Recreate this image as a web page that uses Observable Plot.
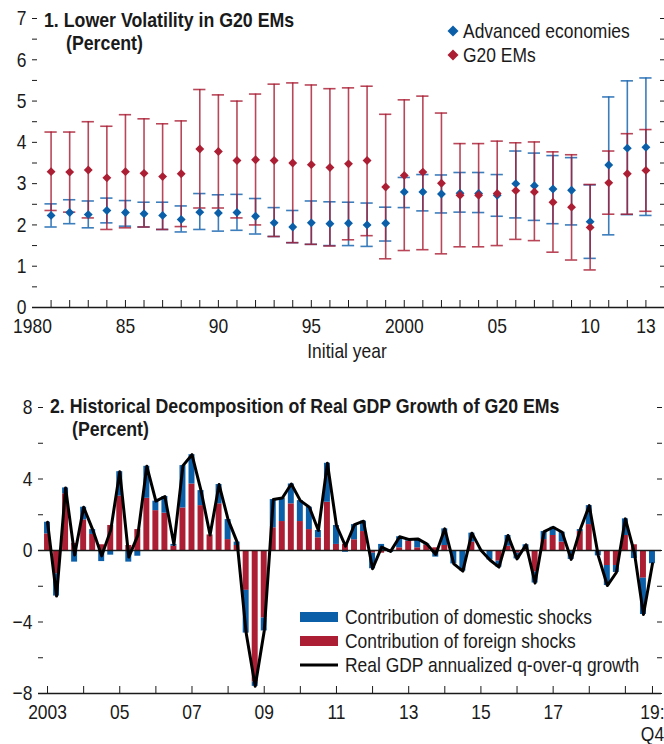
<!DOCTYPE html>
<html><head><meta charset="utf-8">
<script src="https://cdn.jsdelivr.net/npm/d3@7"></script>
<script src="https://cdn.jsdelivr.net/npm/@observablehq/plot@0.6"></script>
<style>
html,body{margin:0;padding:0;background:#fff;}
#root{position:relative;width:664px;height:744px;overflow:hidden;background:#fff;}
#root svg{position:absolute;left:0;}
</style></head><body><div id="root"></div>
<script>
// ---------- Panel 1 data ----------
const years = [1981,1982,1983,1984,1985,1986,1987,1988,1989,1990,1991,1992,1993,1994,1995,1996,1997,1998,1999,2000,2001,2002,2003,2004,2005,2006,2007,2008,2009,2010,2011,2012,2013];
const aeMid  = [2.23,2.30,2.25,2.35,2.30,2.27,2.23,2.13,2.31,2.29,2.30,2.21,2.05,1.95,2.05,2.03,2.04,2.00,2.04,2.80,2.80,2.75,2.77,2.76,2.72,3.00,2.95,2.87,2.84,2.08,3.45,3.86,3.88];
const aeHigh = [2.51,2.61,2.58,2.65,2.59,2.55,2.55,2.46,2.76,2.73,2.74,2.64,2.42,2.35,2.58,2.56,2.55,2.53,2.43,3.15,3.22,3.21,3.27,3.27,3.22,3.79,3.74,3.68,3.63,2.97,5.10,5.49,5.56];
const aeLow  = [1.95,2.03,1.93,2.05,1.97,1.95,1.89,1.83,1.89,1.85,1.87,1.78,1.72,1.57,1.53,1.50,1.50,1.48,1.61,2.42,2.34,2.29,2.31,2.30,2.21,2.17,2.11,2.03,2.00,1.19,1.76,2.25,2.23];
const emMid  = [3.29,3.28,3.33,3.14,3.29,3.25,3.17,3.24,3.84,3.78,3.56,3.58,3.56,3.50,3.46,3.39,3.48,3.56,2.92,3.20,3.28,3.01,2.72,2.72,2.76,2.83,2.80,2.55,2.43,1.94,3.02,3.24,3.32];
const emHigh = [4.25,4.25,4.50,4.39,4.67,4.57,4.45,4.52,5.28,5.15,5.00,5.17,5.41,5.44,5.39,5.30,5.32,5.36,4.68,5.03,5.12,4.71,3.97,3.97,4.03,3.99,4.01,3.77,3.70,2.98,3.79,4.21,4.31];
const emLow  = [2.35,2.31,2.17,1.89,1.93,1.95,1.89,1.96,2.41,2.41,2.17,2.00,1.72,1.57,1.53,1.49,1.64,1.74,1.18,1.38,1.40,1.30,1.47,1.47,1.50,1.65,1.62,1.34,1.15,0.91,2.26,2.26,2.33];

const p1YTicks = [0,0.5,1,1.5,2,2.5,3,3.5,4,4.5,5,5.5,6,6.5,7];
const p1YLabelValues = [0,1,2,3,4,5,6,7];
const p1YLabels = ["0","1","2","3","4","5","6","7"];
const p1XLabelYears = [1980,1985,1990,1995,2000,2005,2010,2013];
const p1XLabels = ["1980","85","90","95","2000","05","10","13"];

// ---------- Panel 2 data (2003:Q1 ... 2019:Q4) ----------
const foreign  = [0.93,-1.30,3.17,0.40,1.71,0.90,0.32,1.40,3.04,0.28,1.17,2.92,2.23,2.09,0.24,2.38,3.72,2.51,0.87,2.61,0.61,0.28,-2.23,-7.36,-3.78,1.27,1.62,2.61,1.62,1.17,0.71,2.70,0.34,0.34,0.60,1.06,-0.15,-0.15,0.05,0.15,0.52,0.15,0.30,0.15,0.28,-0.05,-0.05,0.47,0.00,-0.05,-0.60,0.24,-0.15,0.05,-1.21,0.61,0.84,0.47,-0.05,1.06,1.45,-0.05,-0.84,-0.84,0.84,0.32,-1.55,0.00];
const domestic = [0.65,-1.25,0.33,-0.65,0.71,0.27,-0.62,-0.26,1.37,-0.65,-0.32,1.79,0.53,0.93,0.10,2.37,1.64,0.84,0.00,1.08,1.12,0.19,-2.39,-0.24,-0.72,1.58,1.32,1.11,1.17,1.25,0.41,2.18,1.06,-0.10,0.85,0.58,-0.87,0.34,-0.10,0.62,0.10,0.50,0.07,-0.37,0.93,-0.70,-1.10,0.50,0.02,-0.48,-0.33,0.60,-0.32,0.27,-0.61,0.45,0.46,0.55,-0.45,0.11,1.06,-0.25,-1.12,-0.39,0.93,-0.45,-2.03,-0.74];
const growth   = [1.58,-2.55,3.50,-0.25,2.42,1.17,-0.30,1.14,4.41,-0.37,0.85,4.71,2.76,3.02,0.34,4.75,5.36,3.35,0.87,3.69,1.73,0.47,-4.62,-7.60,-4.50,2.85,2.94,3.72,2.79,2.42,1.12,4.88,1.40,0.24,1.45,1.64,-1.02,0.19,-0.05,0.77,0.62,0.65,0.37,-0.22,1.21,-0.75,-1.15,0.97,0.02,-0.53,-0.93,0.84,-0.47,0.32,-1.82,1.06,1.30,1.02,-0.50,1.17,2.51,-0.30,-1.96,-1.23,1.77,-0.13,-3.58,-0.74];

const p2YTicks = [-8,-6,-4,-2,0,2,4,6,8];
const p2YLabelValues = [-8,-4,0,4,8];
const p2YLabels = ["\u22128","\u22124","0","4","8"];
const p2XTickIdx = [0,4,8,12,16,20,24,28,32,36,40,44,48,52,56,60,64,67];
const p2XLabelIdx = [0,8,16,24,32,40,48,56,67];
const p2XLabels = ["2003","05","07","09","11","13","15","17","19:\nQ4"];

// ---------- styles ----------
const FONT = "'Liberation Sans',Arial,sans-serif";
const CONDENSE = 0.83, CONDENSE_BOLD = 0.845;
const BLUE = "#0b5ea8", RED = "#ab1e33";
const BLUE_BAR = "#1a66b0", RED_BAR = "#a8192f";
const INK = "#1a1a1a";
const svgStyle = {fontFamily: FONT, fontSize: "21px", color: INK, background: "transparent", overflow: "visible"};

const p1 = years.map((y, k) => ({year: y, ae: aeMid[k], aeH: aeHigh[k], aeL: aeLow[k], em: emMid[k], emH: emHigh[k], emL: emLow[k]}));
const lab1 = new Map(p1YLabelValues.map((v, k) => [v, p1YLabels[k]]));
const xlab1 = new Map(p1XLabelYears.map((v, k) => [v, p1XLabels[k]]));
const CAP = 0.33;

const plot1 = Plot.plot({
  width: 664, height: 370,
  marginLeft: 32, marginRight: 0, marginTop: 18, marginBottom: 63,
  x: {domain: [1980, 2014]},
  y: {domain: [0, 7]},
  style: svgStyle,
  marks: [
    Plot.axisY(p1YTicks, {anchor: "left", tickSize: 5, dx: 5, tickPadding: 6, tickFormat: d => lab1.get(d) ?? "", label: null, stroke: INK, fill: INK}),
    Plot.axisY(p1YTicks, {anchor: "right", tickSize: 5, dx: -5, tickFormat: () => "", label: null, stroke: INK}),
    Plot.axisX(years, {anchor: "bottom", tickSize: 7, dy: -7, tickFormat: () => "", label: null, stroke: INK}),
    Plot.axisX(p1XLabelYears, {anchor: "bottom", tickSize: 0, tickPadding: 11, tickFormat: d => xlab1.get(d), label: null, fill: INK}),
    Plot.ruleY([0], {stroke: INK, strokeWidth: 1.6}),
    Plot.ruleX(p1, {x: "year", y1: "aeL", y2: "aeH", stroke: BLUE_BAR, strokeWidth: 1.6, strokeOpacity: 0.85}),
    Plot.ruleY(p1, {x1: d => d.year - CAP, x2: d => d.year + CAP, y: "aeH", stroke: BLUE_BAR, strokeWidth: 1.6, strokeOpacity: 0.85}),
    Plot.ruleY(p1, {x1: d => d.year - CAP, x2: d => d.year + CAP, y: "aeL", stroke: BLUE_BAR, strokeWidth: 1.6, strokeOpacity: 0.85}),
    Plot.ruleX(p1, {x: "year", y1: "emL", y2: "emH", stroke: RED_BAR, strokeWidth: 1.6, strokeOpacity: 0.8}),
    Plot.ruleY(p1, {x1: d => d.year - CAP, x2: d => d.year + CAP, y: "emH", stroke: RED_BAR, strokeWidth: 1.6, strokeOpacity: 0.8}),
    Plot.ruleY(p1, {x1: d => d.year - CAP, x2: d => d.year + CAP, y: "emL", stroke: RED_BAR, strokeWidth: 1.6, strokeOpacity: 0.8}),
    Plot.dot(p1, {x: "year", y: "ae", symbol: "diamond2", r: 4, fill: BLUE, stroke: "none"}),
    Plot.dot(p1, {x: "year", y: "em", symbol: "diamond2", r: 4, fill: RED, stroke: "none"})
  ]
});
plot1.style.top = "0px";

// ---------- Panel 2 ----------
const bars = [];
foreign.forEach((f, i) => {
  let pos = 0, neg = 0;
  for (const [s, v] of [["foreign", f], ["domestic", domestic[i]]]) {
    if (v >= 0) { bars.push({i, s, y1: pos, y2: pos + v}); pos += v; }
    else { bars.push({i, s, y1: neg, y2: neg + v}); neg += v; }
  }
});
const gLine = growth.map((g, i) => ({i, g}));
const lab2 = new Map(p2YLabelValues.map((v, k) => [v, p2YLabels[k]]));
const xlab2 = new Map(p2XLabelIdx.map((v, k) => [v, p2XLabels[k]]));
const HALF = 0.33;

const plot2 = Plot.plot({
  width: 664, height: 374,
  marginLeft: 38, marginRight: 3, marginTop: 37, marginBottom: 51,
  x: {domain: [-1, 68]},
  y: {domain: [-8, 8]},
  color: {domain: ["domestic", "foreign"], range: [BLUE, RED]},
  style: svgStyle,
  marks: [
    Plot.axisY(p2YTicks, {anchor: "left", tickSize: 5, dx: 5, tickPadding: 6, tickFormat: d => lab2.get(d) ?? "", label: null, stroke: INK, fill: INK}),
    Plot.axisY(p2YTicks, {anchor: "right", tickSize: 5, dx: -5, tickFormat: () => "", label: null, stroke: INK}),
    Plot.axisX(p2XTickIdx, {anchor: "bottom", tickSize: 7, dy: -7, tickFormat: () => "", label: null, stroke: INK}),
    Plot.axisX(p2XLabelIdx, {anchor: "bottom", tickSize: 0, tickPadding: 10, tickFormat: d => xlab2.get(d), lineHeight: 1.05, label: null, fill: INK}),
    Plot.ruleY([-8], {stroke: INK, strokeWidth: 1.6}),
    Plot.rectY(bars, {x1: d => d.i - HALF, x2: d => d.i + HALF, y1: "y1", y2: "y2", fill: "s"}),
    Plot.ruleY([0], {stroke: INK, strokeWidth: 1.6}),
    Plot.line(gLine, {x: "i", y: "g", stroke: "#000", strokeWidth: 3})
  ]
});
plot2.style.top = "370px";

const root = document.getElementById("root");
root.appendChild(plot1);
root.appendChild(plot2);

// ---------- titles & legends ----------
const NS = "http://www.w3.org/2000/svg";
const ov = document.createElementNS(NS, "svg");
ov.setAttribute("width", 664); ov.setAttribute("height", 744);
ov.style.top = "0px"; ov.style.fontFamily = FONT; ov.style.fontSize = "21px";
function txt(x, y, s, opts = {}) {
  const t = document.createElementNS(NS, "text");
  t.setAttribute("x", x); t.setAttribute("y", y); t.setAttribute("fill", INK);
  if (opts.bold) t.setAttribute("font-weight", "bold");
  if (opts.anchor) t.setAttribute("text-anchor", opts.anchor);
  t.textContent = s; ov.appendChild(t);
}
function el(tag, attrs) {
  const e = document.createElementNS(NS, tag);
  for (const k in attrs) e.setAttribute(k, attrs[k]);
  ov.appendChild(e);
}
txt(44, 27, "1. Lower Volatility in G20 EMs", {bold: true});
txt(66, 50, "(Percent)", {bold: true});
el("path", {d: "M453,25.5L458.5,31L453,36.5L447.5,31Z", fill: BLUE});
el("path", {d: "M453,49.5L458.5,55L453,60.5L447.5,55Z", fill: RED});
txt(463, 37.5, "Advanced economies");
txt(463, 62, "G20 EMs");
txt(347, 358, "Initial year", {anchor: "middle"});

txt(50, 413, "2. Historical Decomposition of Real GDP Growth of G20 EMs", {bold: true});
txt(72, 436, "(Percent)", {bold: true});
el("rect", {x: 300, y: 612, width: 38, height: 10, fill: BLUE});
el("rect", {x: 300, y: 636, width: 38, height: 10, fill: RED});
el("line", {x1: 300, x2: 338, y1: 665, y2: 665, stroke: "#000", "stroke-width": 3});
txt(345, 623.5, "Contribution of domestic shocks");
txt(345, 647.5, "Contribution of foreign shocks");
txt(345, 671.5, "Real GDP annualized q-over-q growth");
root.appendChild(ov);

// condense all text horizontally (narrow type face look)
root.querySelectorAll("text").forEach(t => {
  const spans = t.querySelectorAll("tspan");
  const targets = spans.length ? Array.from(spans) : [t];
  const f = t.getAttribute("font-weight") === "bold" ? CONDENSE_BOLD : CONDENSE;
  targets.forEach(e => {
    const len = e.getComputedTextLength();
    if (len > 0) {
      e.setAttribute("textLength", (len * f).toFixed(2));
      e.setAttribute("lengthAdjust", "spacingAndGlyphs");
    }
  });
});
</script></body></html>
